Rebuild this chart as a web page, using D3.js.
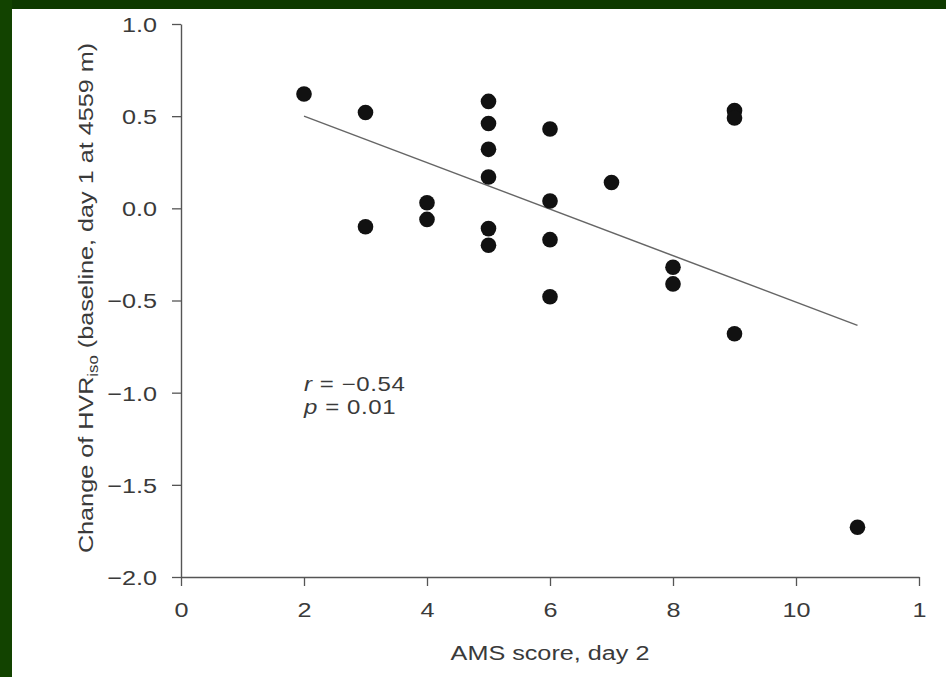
<!DOCTYPE html>
<html>
<head>
<meta charset="utf-8">
<script src="https://cdn.jsdelivr.net/npm/d3@7"></script>
<style>
  html, body { margin: 0; padding: 0; background: #fff; overflow: hidden; }
  svg { display: block; }
  text { font-family: "Liberation Sans", Arial, sans-serif; fill: #3a3a3a; }
</style>
</head>
<body>
<div id="chart"></div>
<script>
// AMS score (x) and change of HVRiso (y)
var amsScore = [2, 3, 3, 4, 4, 5, 5, 5, 5, 5, 5, 6, 6, 6, 6, 7, 8, 8, 9, 9, 9, 11];
var hvrChange = [0.62, 0.52, -0.10, 0.03, -0.06, 0.58, 0.46, 0.32, 0.17, -0.11, -0.20,
                 0.43, 0.04, -0.17, -0.48, 0.14, -0.32, -0.41, 0.53, 0.49, -0.68, -1.73];
// regression line end points
var fitX = [2, 11];
var fitY = [0.50, -0.635];

var xTicks = [0, 2, 4, 6, 8, 10, 12];
var xTickLabels = ["0", "2", "4", "6", "8", "10", "1"];
var yTicks = [1.0, 0.5, 0.0, -0.5, -1.0, -1.5, -2.0];

var width = 946;
var height = 677;
var stretch = 1.2; // glyphs in the picture are wide

var svg = d3.select("#chart").append("svg")
  .attr("width", width)
  .attr("height", height);

svg.append("rect").attr("width", width).attr("height", height).attr("fill", "#fff");

// green slide frame on top and left
svg.append("rect").attr("x", 0).attr("y", 0).attr("width", width).attr("height", 9).attr("fill", "#0e3a00");
svg.append("rect").attr("x", 0).attr("y", 0).attr("width", 12).attr("height", height).attr("fill", "#124300");

var xScale = d3.scaleLinear().domain([0, 12]).range([181, 919]);
var yScale = d3.scaleLinear().domain([-2, 1]).range([577, 24]);

var xAxis = d3.axisBottom(xScale)
  .tickValues(xTicks)
  .tickFormat(function (d, i) { return xTickLabels[i]; })
  .tickSize(9)
  .tickSizeOuter(0);

var yAxis = d3.axisLeft(yScale)
  .tickValues(yTicks)
  .tickFormat(function (d) { return d < 0 ? "\u2212" + Math.abs(d).toFixed(1) : d.toFixed(1); })
  .tickSize(9)
  .tickSizeOuter(0);

var gx = svg.append("g")
  .attr("transform", "translate(0,577)")
  .call(xAxis);

var gy = svg.append("g")
  .attr("transform", "translate(181,0)")
  .call(yAxis);

[gx, gy].forEach(function (g) {
  g.select(".domain").attr("stroke", "#555").attr("stroke-width", 1.4);
  g.selectAll(".tick line").attr("stroke", "#555").attr("stroke-width", 1.3);
  g.selectAll(".tick text")
    .attr("fill", "#3a3a3a")
    .style("font-size", "21px")
    .style("font-family", "'Liberation Sans', Arial, sans-serif");
});

gx.selectAll(".tick text")
  .attr("y", null)
  .attr("dy", null)
  .attr("transform", "translate(0,40) scale(" + stretch + ",1)");

gy.selectAll(".tick text")
  .attr("x", null)
  .attr("dy", "0.35em")
  .attr("transform", "translate(-24,0) scale(" + stretch + ",1)");

// regression line
svg.append("line")
  .attr("x1", xScale(fitX[0]))
  .attr("y1", yScale(fitY[0]))
  .attr("x2", xScale(fitX[1]))
  .attr("y2", yScale(fitY[1]))
  .attr("stroke", "#666")
  .attr("stroke-width", 1.5);

// points
svg.append("g").selectAll("circle")
  .data(amsScore)
  .enter()
  .append("circle")
  .attr("cx", function (d) { return xScale(d); })
  .attr("cy", function (d, i) { return yScale(hvrChange[i]); })
  .attr("r", 7.8)
  .attr("fill", "#111");

// axis titles
svg.append("text")
  .attr("transform", "translate(550,660) scale(" + stretch + ",1)")
  .attr("text-anchor", "middle")
  .style("font-size", "21px")
  .text("AMS score, day 2");

var yTitle = svg.append("text")
  .attr("transform", "translate(93,298) rotate(-90) scale(" + stretch + ",1)")
  .attr("text-anchor", "middle")
  .style("font-size", "21px");
yTitle.append("tspan").text("Change of HVR");
yTitle.append("tspan").attr("dy", 5).style("font-size", "14px").text("iso");
yTitle.append("tspan").attr("dy", -5).text(" (baseline, day 1 at 4559 m)");

// statistics
var stats = svg.append("g").attr("transform", "translate(304,0)");
var r = stats.append("text")
  .attr("transform", "translate(0,391) scale(" + stretch + ",1)")
  .style("font-size", "20px")
  .style("letter-spacing", "0.5px");
r.append("tspan").style("font-style", "italic").text("r");
r.append("tspan").text(" = \u22120.54");

var p = stats.append("text")
  .attr("transform", "translate(0,414) scale(" + stretch + ",1)")
  .style("font-size", "20px")
  .style("letter-spacing", "0.5px");
p.append("tspan").style("font-style", "italic").text("p");
p.append("tspan").text(" = 0.01");
</script>
</body>
</html>
